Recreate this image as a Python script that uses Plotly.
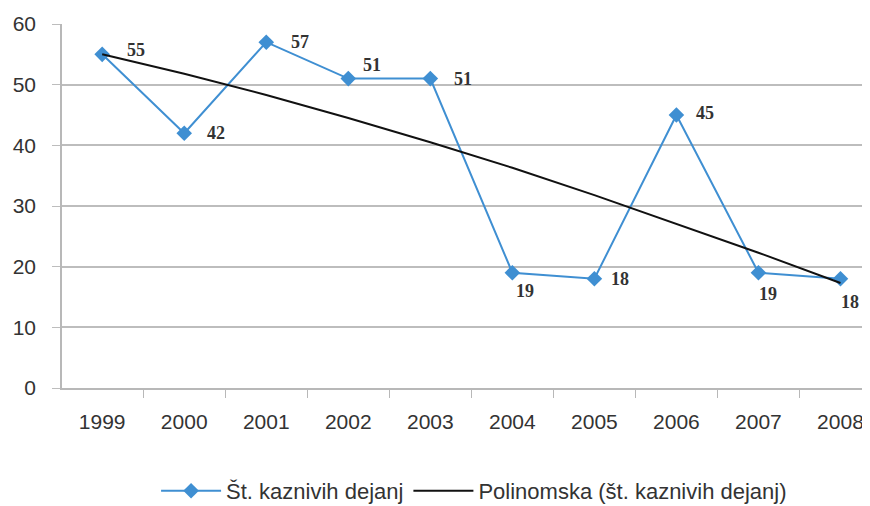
import plotly.graph_objects as go

years = ["1999", "2000", "2001", "2002", "2003", "2004", "2005", "2006", "2007", "2008"]
counts = [55, 42, 57, 51, 51, 19, 18, 45, 19, 18]
trend = [55.0, 51.8, 48.3, 44.5, 40.5, 36.3, 31.8, 27.1, 22.3, 17.3]
label_dx = [34, 32, 34, 24, 33, 13, 26, 29, 10, 10]
label_dy = [4, 0, 0, 14, 0, -18, 0, 2, -21, -23]

blue = "#3f8fd2"

fig = go.Figure()
fig.add_trace(go.Scatter(
    x=years, y=counts, mode="lines+markers", name="Št. kaznivih dejanj",
    line=dict(color=blue, width=2),
    marker=dict(symbol="diamond", size=12, color=blue),
))
fig.add_trace(go.Scatter(
    x=years, y=trend, mode="lines", name="Polinomska (št. kaznivih dejanj)",
    line=dict(color="#111111", width=2),
))

for i, (v, dx, dy) in enumerate(zip(counts, label_dx, label_dy)):
    fig.add_annotation(x=i, y=v, xref="x", yref="y", text="<b>%d</b>" % v, showarrow=False,
                       xshift=dx, yshift=dy, xanchor="center", yanchor="middle",
                       font=dict(family="Liberation Serif", size=18, color="#333333"))

fig.update_layout(
    width=862, height=498,
    margin=dict(l=54, r=0, t=16, b=118, autoexpand=False),
    paper_bgcolor="white", plot_bgcolor="white",
    font=dict(family="Liberation Sans", size=21, color="#333333"),
    showlegend=True,
    legend=dict(orientation="h", x=0.51, xanchor="center", y=-0.283, yanchor="middle",
                font=dict(size=22, color="#333333"), itemwidth=60, tracegroupgap=0),
    xaxis=dict(type="category", range=[-0.49, 9.36], showgrid=False,
               showline=True, linecolor="#b8b8b8", linewidth=1.5,
               ticks="outside", tickson="boundaries", ticklen=8, tickcolor="#b8b8b8",
               ticklabelstandoff=14,
               tickfont=dict(size=21, color="#333333")),
    yaxis=dict(range=[0, 60], dtick=10, showgrid=True, gridcolor="#bdbdbd", gridwidth=1.5,
               showline=True, linecolor="#b8b8b8", linewidth=1.5,
               ticks="outside", ticklen=8, tickcolor="#bdbdbd",
               ticklabelstandoff=12,
               tickfont=dict(size=21, color="#333333"), zeroline=False),
)

fig.write_html("out.html")
